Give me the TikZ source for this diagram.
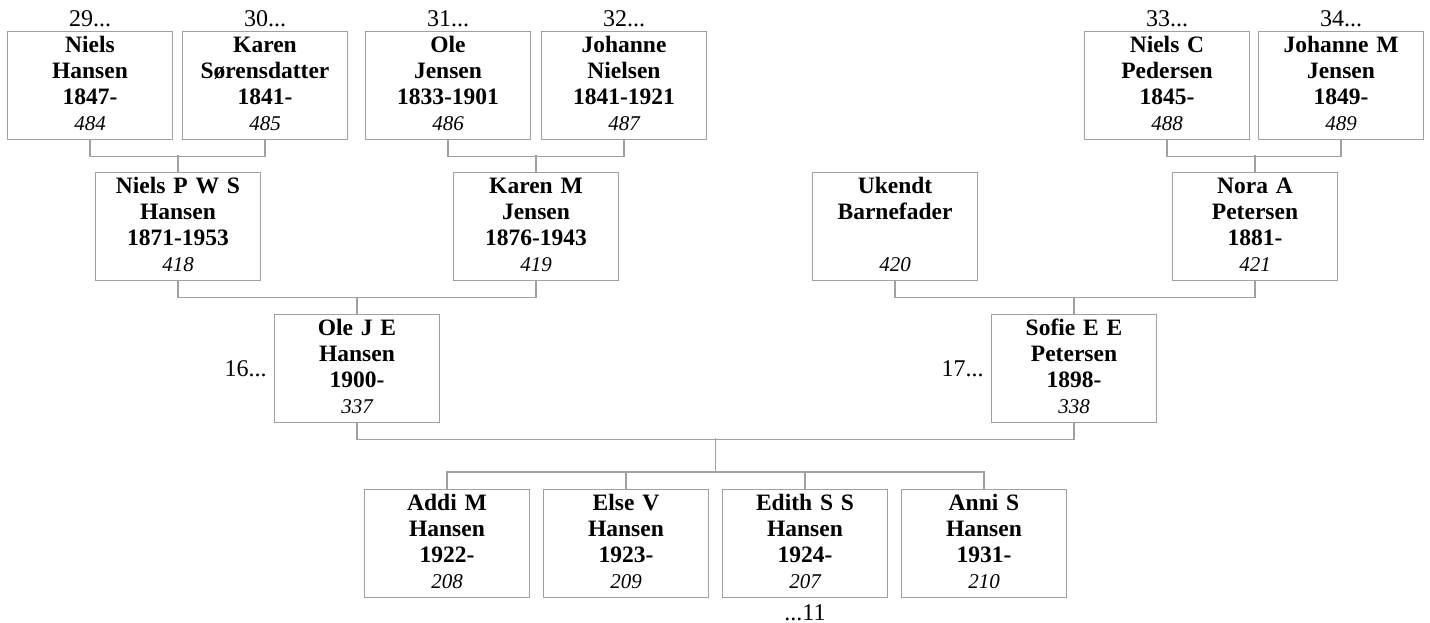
\documentclass[tikz,border=0pt]{standalone}
\usepackage{fontspec}
\setmainfont{Liberation Serif}
\usepackage{tikz}
\usetikzlibrary{positioning}

\definecolor{linegray}{RGB}{160,160,160}
\newcommand{\namefont}{\bfseries\fontsize{23.5}{26}\selectfont}
\newcommand{\labelfont}{\fontsize{24}{26}\selectfont}
\newcommand{\refno}[1]{{\mdseries\itshape\fontsize{21}{26}\selectfont #1}}

\begin{document}
\begin{tikzpicture}[x=1pt, y=-1pt]
        \tikzstyle{every node} = [font=\namefont]
        \tikzstyle{person} = [draw=linegray, line width=1.2pt, anchor=north, inner sep=0pt, text width=165pt, align=center, text height=21pt, text depth=87pt]
        \tikzstyle{gen} = [font=\labelfont, inner sep=0pt]
        \tikzstyle{link} = [draw=linegray, line width=1.2pt]

        \useasboundingbox (0,0) rectangle (1430,623);

        % great-grandparents
        \foreach \id/\x/\txt in {n484/90/{Niels\\Hansen\\1847-\\\refno{484}},
                                 n485/265/{Karen\\Sørensdatter\\1841-\\\refno{485}},
                                 n486/448/{Ole\\Jensen\\1833-1901\\\refno{486}},
                                 n487/624/{Johanne\\Nielsen\\1841-1921\\\refno{487}},
                                 n488/1167/{Niels C\\Pedersen\\1845-\\\refno{488}},
                                 n489/1341/{Johanne M\\Jensen\\1849-\\\refno{489}}}
            \node[person] (\id) at (\x,31) {\txt};

        % grandparents
        \foreach \id/\x/\txt in {n418/178/{Niels P W S\\Hansen\\1871-1953\\\refno{418}},
                                 n419/536/{Karen M\\Jensen\\1876-1943\\\refno{419}},
                                 n420/895/{Ukendt\\Barnefader\\\mbox{}\\\refno{420}},
                                 n421/1255/{Nora A\\Petersen\\1881-\\\refno{421}}}
            \node[person] (\id) at (\x,172) {\txt};

        % parents
        \node[person] (n337) at (357,314) {Ole J E\\Hansen\\1900-\\\refno{337}};
        \node[person] (n338) at (1074,314) {Sofie E E\\Petersen\\1898-\\\refno{338}};

        % children
        \foreach \id/\x/\txt in {n208/447/{Addi M\\Hansen\\1922-\\\refno{208}},
                                 n209/626/{Else V\\Hansen\\1923-\\\refno{209}},
                                 n207/805/{Edith S S\\Hansen\\1924-\\\refno{207}},
                                 n210/984/{Anni S\\Hansen\\1931-\\\refno{210}}}
            \node[person] (\id) at (\x,489) {\txt};

        % continuation labels
        \foreach \id/\lbl in {n484/29, n485/30, n486/31, n487/32, n488/33, n489/34}
            \node[gen, above=4pt of \id] (g\lbl) {\lbl...};
        \node[gen, left=7pt of n337] (g16) {16...};
        \node[gen, left=7pt of n338] (g17) {17...};
        \node[gen, below=6pt of n207] (g11) {...11};

        % couples
        \foreach \a/\b/\c in {n484/n485/n418, n486/n487/n419, n488/n489/n421, n418/n419/n337, n420/n421/n338} {
            \draw[link] (\a.south) -- ++(0,16) -| (\b.south);
            \draw[link] (\c.north) -- ++(0,-17);
        }

        \coordinate (fam) at (715.5,438);
        \coordinate (kids) at (715.5,472);
        \draw[link] (n337.south) -- ++(0,16) -| (n338.south);
        \draw[link] (fam) -- (kids);
        \draw[link] (n208.north) -- ++(0,-17) -| (n210.north);
        \foreach \id in {n209, n207}
            \draw[link] (\id.north) -- ++(0,-17);
    \end{tikzpicture}
\end{document}
